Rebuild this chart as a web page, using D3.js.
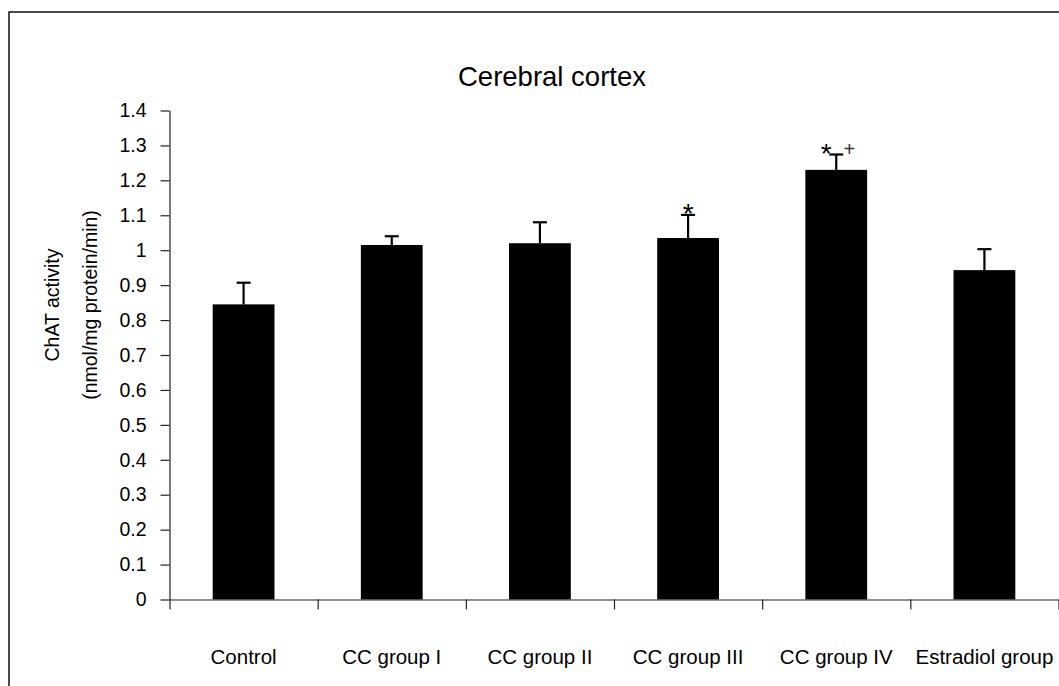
<!DOCTYPE html>
<html>
<head>
<meta charset="utf-8">
<script src="https://cdn.jsdelivr.net/npm/d3@7"></script>
<style>
  html, body { margin: 0; padding: 0; background: #fff; }
  svg { display: block; font-family: "Liberation Sans", Arial, sans-serif; }
</style>
</head>
<body>
<div id="chart"></div>
<script>
// Cerebral cortex ChAT activity, bars with SEM whiskers
var groups = ["Control", "CC group I", "CC group II", "CC group III", "CC group IV", "Estradiol group"];
var means = [0.845, 1.015, 1.02, 1.035, 1.23, 0.943];
var errs = [0.062, 0.025, 0.06, 0.066, 0.044, 0.06];
var stars = ["", "", "", "*", "*", ""];
var pluses = ["", "", "", "", "+", ""];
var yTicks = [0, 0.1, 0.2, 0.3, 0.4, 0.5, 0.6, 0.7, 0.8, 0.9, 1, 1.1, 1.2, 1.3, 1.4];

var W = 1059, H = 686;
var L = 169.5, R = 1058.5, B = 599.5, T = 110.5;

var svg = d3.select("#chart").append("svg").attr("width", W).attr("height", H);

// outer frame (runs off the right and bottom edges)
svg.append("rect").attr("x", 9).attr("y", 12).attr("width", W + 20).attr("height", H + 20)
  .attr("fill", "none").attr("stroke", "#000").attr("stroke-width", 1.4);

var y = d3.scaleLinear().domain([0, 1.4]).range([B, T]);
var band = d3.scaleBand().domain(groups).range([L, R]).padding(0);
var edges = d3.scaleLinear().domain([0, groups.length]).range([L, R]);
var barW = band.bandwidth() * 0.417;

// title
svg.append("text").attr("x", 552).attr("y", 86).attr("text-anchor", "middle")
  .attr("font-size", 27.5).attr("fill", "#000").text("Cerebral cortex");

// y axis
var ya = svg.append("g").attr("transform", "translate(" + L + ",0)")
  .call(d3.axisLeft(y).tickValues(yTicks).tickFormat(d3.format(".1~f")).tickSize(9).tickPadding(14).tickSizeOuter(0));
ya.select(".domain").attr("stroke", "#222").attr("stroke-width", 1.2);
ya.selectAll(".tick line").attr("stroke", "#222").attr("stroke-width", 1.2);
ya.selectAll(".tick text").attr("font-size", 19.5).attr("font-family", "Liberation Sans, Arial, sans-serif").attr("fill", "#000");

// y labels
svg.append("text").attr("transform", "translate(59,305) rotate(-90)").attr("text-anchor", "middle")
  .attr("font-size", 19.5).attr("fill", "#000").text("ChAT activity");
svg.append("text").attr("transform", "translate(97,305) rotate(-90)").attr("text-anchor", "middle")
  .attr("font-size", 19.5).attr("fill", "#000").text("(nmol/mg protein/min)");

// bars
var data = groups.map(function (g, i) { return { g: g, m: means[i], e: errs[i], s: stars[i], p: pluses[i] }; });
var cx = function (d) { return band(d.g) + band.bandwidth() / 2; };

svg.selectAll("rect.bar").data(data).enter().append("rect").attr("class", "bar")
  .attr("x", function (d) { return cx(d) - barW / 2; }).attr("width", barW)
  .attr("y", function (d) { return y(d.m); }).attr("height", function (d) { return B - y(d.m); })
  .attr("fill", "#000");

// error whiskers (upper only)
svg.selectAll("line.stem").data(data).enter().append("line")
  .attr("x1", cx).attr("x2", cx)
  .attr("y1", function (d) { return y(d.m); }).attr("y2", function (d) { return y(d.m + d.e); })
  .attr("stroke", "#000").attr("stroke-width", 2.2);
svg.selectAll("line.cap").data(data).enter().append("line")
  .attr("x1", function (d) { return cx(d) - 7; }).attr("x2", function (d) { return cx(d) + 7; })
  .attr("y1", function (d) { return y(d.m + d.e); }).attr("y2", function (d) { return y(d.m + d.e); })
  .attr("stroke", "#000").attr("stroke-width", 2.2);

// significance marks
svg.selectAll("text.star").data(data.filter(function (d) { return d.s; })).enter().append("text")
  .attr("x", function (d) { return cx(d) + (d.p ? -10 : 0); })
  .attr("y", function (d) { return y(d.m + d.e) + 8; })
  .attr("text-anchor", "middle").attr("font-size", 28).attr("fill", "#000").text(function (d) { return d.s; });
svg.selectAll("text.plus").data(data.filter(function (d) { return d.p; })).enter().append("text")
  .attr("x", function (d) { return cx(d) + 13; })
  .attr("y", function (d) { return y(d.m + d.e) + 1; })
  .attr("text-anchor", "middle").attr("font-size", 20).attr("fill", "#333").text(function (d) { return d.p; });

// x axis: ticks on category boundaries
var xa = svg.append("g").attr("transform", "translate(0," + B + ")")
  .call(d3.axisBottom(edges).tickValues(d3.range(groups.length + 1)).tickFormat("").tickSize(10).tickSizeOuter(0));
xa.select(".domain").attr("stroke", "#222").attr("stroke-width", 1.2);
xa.selectAll(".tick line").attr("stroke", "#222").attr("stroke-width", 1.2);

svg.selectAll("text.xlab").data(groups).enter().append("text")
  .attr("x", function (g) { return band(g) + band.bandwidth() / 2; }).attr("y", 664)
  .attr("text-anchor", "middle").attr("font-size", 20.5).attr("fill", "#000").text(function (g) { return g; });
</script>
</body>
</html>
